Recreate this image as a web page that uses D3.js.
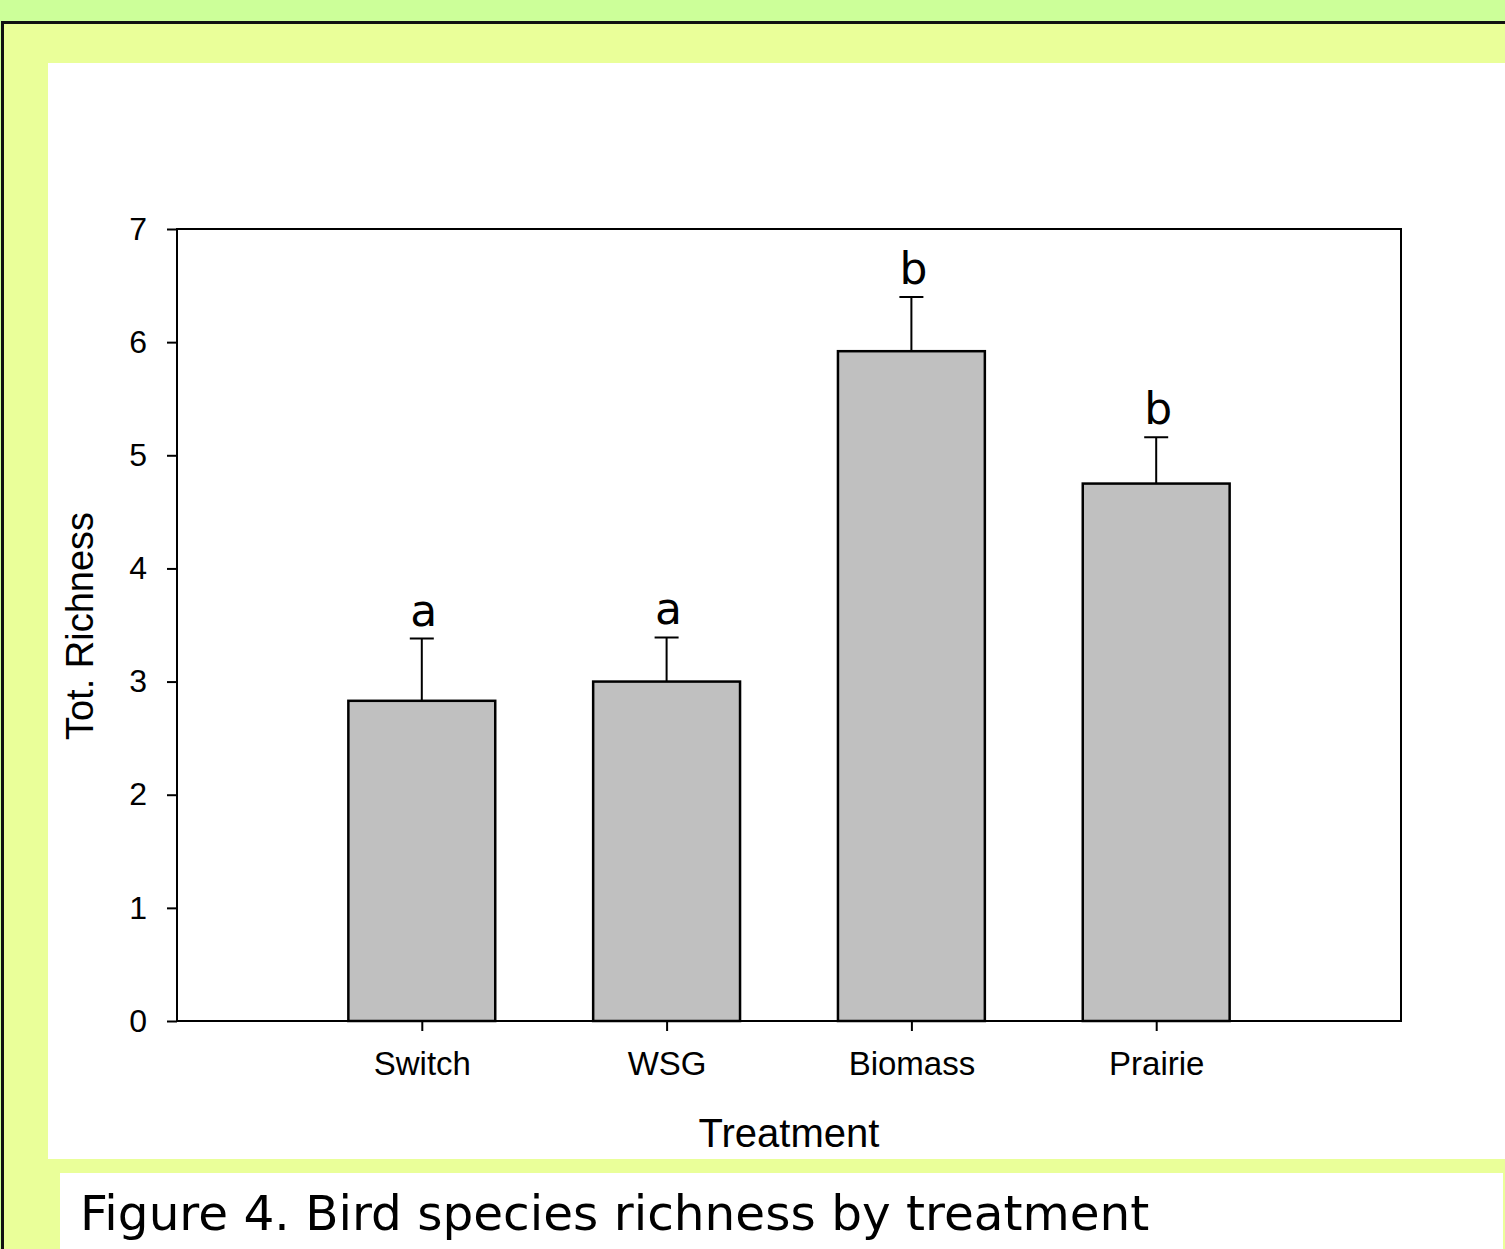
<!DOCTYPE html>
<html>
<head>
<meta charset="utf-8">
<script src="https://cdn.jsdelivr.net/npm/d3@7"></script>
<style>
  body { margin: 0; overflow: hidden; background: #ccff99; }
  svg { display: block; }
</style>
</head>
<body>
<script>
// Bird species richness by treatment
const categories = ["Switch", "WSG", "Biomass", "Prairie"];
const means = [2.83, 3.0, 5.92, 4.75];
const errors = [0.55, 0.39, 0.48, 0.41];
const letters = ["a", "a", "b", "b"];
const yTicks = [0, 1, 2, 3, 4, 5, 6, 7];

const W = 1505, H = 1249;
const svg = d3.select("body").append("svg").attr("width", W).attr("height", H);

// Background frames
svg.append("rect").attr("width", W).attr("height", H).attr("fill", "#ccff99");
svg.append("rect").attr("x", 2.5).attr("y", 22.5).attr("width", W).attr("height", H)
    .attr("fill", "#eaff99").attr("stroke", "#111").attr("stroke-width", 3);
svg.append("rect").attr("x", 48).attr("y", 63).attr("width", W - 48).attr("height", 1096).attr("fill", "#fff");
svg.append("rect").attr("x", 60).attr("y", 1173).attr("width", 1443).attr("height", 80).attr("fill", "#fff");

// Plot area
const margin = {left: 177, right: 1401, top: 229, bottom: 1021};

const x = d3.scaleLinear().domain([0, categories.length + 1]).range([margin.left, margin.right]);
const y = d3.scaleLinear().domain([0, 7]).range([margin.bottom, margin.top]);
const barW = (x(1) - x(0)) * 0.6;

const g = svg.append("g");

// Frame of plot
g.append("rect")
    .attr("x", margin.left).attr("y", margin.top)
    .attr("width", margin.right - margin.left).attr("height", margin.bottom - margin.top)
    .attr("fill", "none").attr("stroke", "#000").attr("stroke-width", 2);

// Bars
g.selectAll(".bar").data(means).enter().append("rect")
    .attr("class", "bar")
    .attr("x", (d, i) => x(i + 1) - barW / 2)
    .attr("y", d => y(d))
    .attr("width", barW)
    .attr("height", d => y(0) - y(d))
    .attr("fill", "#c0c0c0").attr("stroke", "#000").attr("stroke-width", 2.5);

// Error bars (upper only)
g.selectAll(".err").data(means).enter().append("path")
    .attr("class", "err")
    .attr("d", (d, i) => {
        const cx = x(i + 1), top = y(d + errors[i]);
        return `M${cx},${y(d)}V${top}M${cx - 12},${top}H${cx + 12}`;
    })
    .attr("fill", "none").attr("stroke", "#000").attr("stroke-width", 2);

// Significance letters
g.selectAll(".letter").data(means).enter().append("text")
    .attr("class", "letter")
    .attr("x", (d, i) => x(i + 1) + 2)
    .attr("y", (d, i) => y(d + errors[i]) - 13)
    .attr("text-anchor", "middle")
    .style("font-family", "DejaVu Sans")
    .style("font-size", "44px")
    .text((d, i) => letters[i]);

// Y axis
const yAxis = g.append("g")
    .attr("transform", `translate(${margin.left},0)`)
    .call(d3.axisLeft(y).tickValues(yTicks).tickFormat(d3.format("d")).tickSize(10).tickPadding(20));
yAxis.select(".domain").remove();
yAxis.selectAll("line").attr("stroke-width", 2);
yAxis.selectAll("text").style("font-family", "Liberation Sans, Arial").style("font-size", "32px").attr("fill", "#000");

// X axis
const xAxis = g.append("g")
    .attr("transform", `translate(0,${margin.bottom})`)
    .call(d3.axisBottom(x).tickValues(d3.range(1, categories.length + 1))
        .tickFormat(d => categories[d - 1]).tickSize(10).tickPadding(21));
xAxis.select(".domain").remove();
xAxis.selectAll("line").attr("stroke-width", 2);
xAxis.selectAll("text").style("font-family", "Liberation Sans, Arial").style("font-size", "33px").attr("fill", "#000");

// Axis titles
svg.append("text")
    .attr("x", (margin.left + margin.right) / 2).attr("y", 1147)
    .attr("text-anchor", "middle")
    .style("font-family", "Liberation Sans, Arial").style("font-size", "40px")
    .text("Treatment");

svg.append("text")
    .attr("transform", "translate(93,626) rotate(-90)")
    .attr("text-anchor", "middle")
    .style("font-family", "Liberation Sans, Arial").style("font-size", "38px")
    .text("Tot. Richness");

// Caption
svg.append("text")
    .attr("x", 80).attr("y", 1230)
    .style("font-family", "DejaVu Sans").style("font-size", "48.5px")
    .attr("fill", "#000")
    .text("Figure 4. Bird species richness by treatment");
</script>
</body>
</html>
